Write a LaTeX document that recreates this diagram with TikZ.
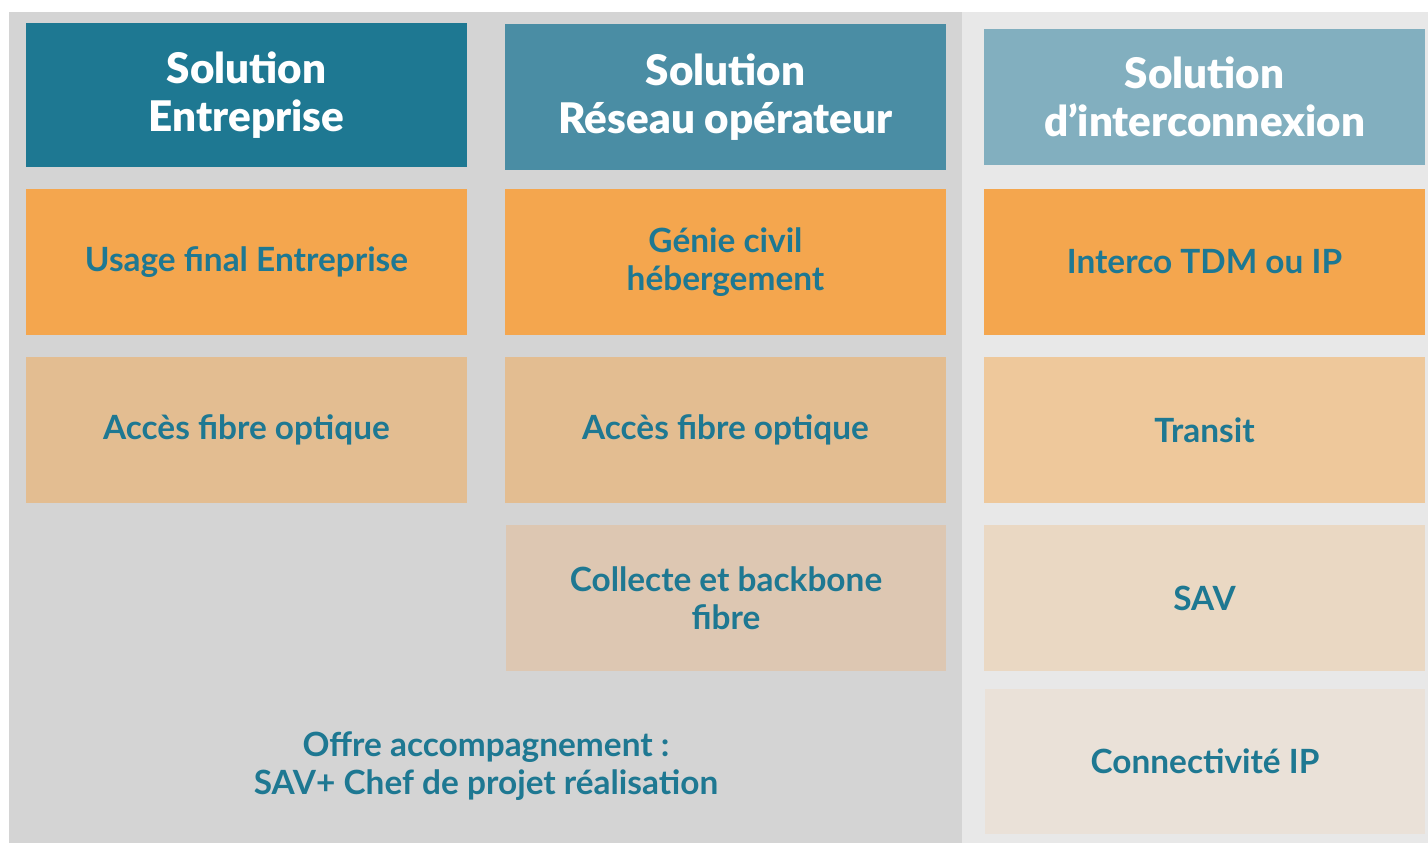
\documentclass[tikz,border=0pt]{standalone}
\usepackage{fontspec}
\setmainfont{Lato}
\newfontfamily\headfont{Lato Black}
\definecolor{bgleft}{HTML}{D4D4D4}
\definecolor{bgright}{HTML}{E8E8E8}
\definecolor{hdA}{HTML}{1E7892}
\definecolor{hdB}{HTML}{4A8DA4}
\definecolor{hdC}{HTML}{82AFBF}
\definecolor{orangeA}{HTML}{F4A64E}
\definecolor{sandA}{HTML}{E3BD91}
\definecolor{sandB}{HTML}{EEC89B}
\definecolor{beigeA}{HTML}{DDC7B2}
\definecolor{beigeB}{HTML}{EAD8C3}
\definecolor{beigeC}{HTML}{EAE1D8}
\definecolor{txtblue}{HTML}{1E7892}
\tikzset{
  cell/.style={rectangle, inner sep=0pt, outer sep=0pt, minimum width=8.82cm, minimum height=2.92cm, align=center, text=txtblue, font=\fontsize{19}{21.6}\selectfont\bfseries},
  head/.style={cell, text=white, font=\fontsize{24}{27.3}\selectfont\headfont}
}
\begin{document}
\begin{tikzpicture}[x=0.02cm, y=-0.02cm]
\useasboundingbox (0,0) rectangle (1428,843);
\fill[bgleft] (9,12) rectangle (962,843);
\fill[bgright] (962,12) rectangle (1428,843);
% headers
\node[head, fill=hdA, minimum height=2.88cm] (hentr) at (246.5,95) {Solution\\Entreprise};
\node[head, fill=hdB] (hreseau) at (725.5,97) {Solution\\Réseau opérateur};
\node[head, fill=hdC, minimum height=2.72cm] (hinter) at (1204.5,97) {Solution\\d’interconnexion};
% first row
\node[cell, fill=orangeA] (usage) at (246.5,262) {Usage final Entreprise};
\node[cell, fill=orangeA] (genie) at (725.5,262) {Génie civil\\hébergement};
\node[cell, fill=orangeA] (interco) at (1204.5,262) {Interco TDM ou IP};
% second row
\node[cell, fill=sandA] (fibreA) at (246.5,430) {Accès fibre optique};
\node[cell, fill=sandA] (fibreB) at (725.5,430) {Accès fibre optique};
\node[cell, fill=sandB] (transit) at (1204.5,430) {Transit};
% lower rows
\node[cell, fill=beigeA] (collecte) at (726,598) {Collecte et backbone\\fibre};
\node[cell, fill=beigeB] (sav) at (1204.5,598) {SAV};
\node[cell, fill=beigeC, minimum height=2.9cm] (connect) at (1205,761.5) {Connectivité IP};
\node[cell, minimum width=0pt, minimum height=0pt] (offre) at (486,766) {Offre accompagnement :\\SAV+ Chef de projet réalisation};
\end{tikzpicture}
\end{document}
